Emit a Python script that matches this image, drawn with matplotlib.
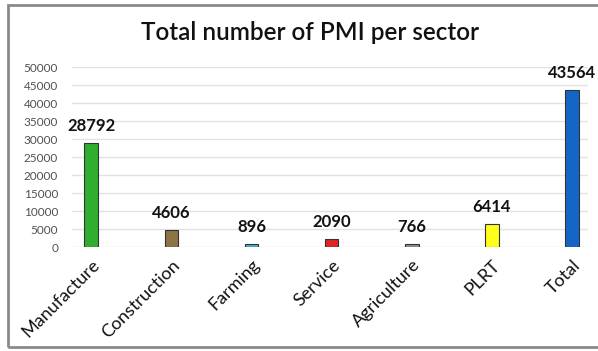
import matplotlib.pyplot as plt
from matplotlib.patches import Rectangle

# Data
sectors = ["Manufacture", "Construction", "Farming", "Service",
           "Agriculture", "PLRT", "Total"]
counts = [28792, 4606, 896, 2090, 766, 6414, 43564]
bar_colors = ["#2fae2f", "#8c7444", "#3fb3c4", "#e02424",
              "#8e8e8e", "#ffff1a", "#1565c8"]
yticks = list(range(0, 50001, 5000))

plt.rcParams["font.family"] = ["Lato", "DejaVu Sans"]

fig = plt.figure(figsize=(5.98, 3.51), dpi=100)
ax = fig.add_axes([72 / 598, 1 - 247 / 351, (588 - 72) / 598, (247 - 67) / 351])

x = range(len(sectors))
ax.bar(x, counts, width=0.17, color=bar_colors, edgecolor="#333333",
       linewidth=0.8, zorder=3)

for xi, v in zip(x, counts):
    ax.text(xi, v + 2500, str(v), ha="center", va="bottom",
            fontsize=12, fontweight="bold", color="#111111")

ax.set_ylim(0, 50000)
ax.set_xlim(-0.24, 6.2)
ax.set_yticks(yticks)
ax.set_yticklabels([str(t) for t in yticks], fontsize=8.5, color="#505050")
ax.set_xticks(list(x))
ax.set_xticklabels(sectors, rotation=45, ha="right", rotation_mode="anchor",
                   fontsize=13, color="#111111")
ax.tick_params(axis="y", length=0, pad=10)
ax.tick_params(axis="x", length=0, pad=7)
ax.grid(axis="y", color="#e2e2e2", lw=1.0, zorder=0)
for s in ax.spines.values():
    s.set_visible(False)

fig.text(310 / 598, 1 - 32 / 351, "Total number of PMI per sector", ha="center",
         va="center", fontsize=17.5, fontweight="semibold", color="#111111")

# outer frame
fig.patches.append(Rectangle((8 / 598, 4 / 351), 1.0, 1 - 9 / 351,
                             transform=fig.transFigure, fill=False,
                             edgecolor="#8a8a8a", lw=2.0))

fig.savefig("out.png", dpi=100)
